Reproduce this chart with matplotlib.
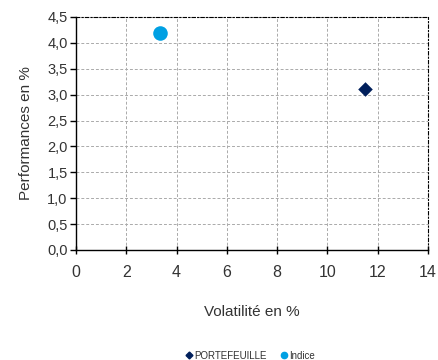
import matplotlib
matplotlib.use("Agg")
import matplotlib.pyplot as plt
from matplotlib.lines import Line2D

plt.rcParams["font.family"] = ["Liberation Sans", "DejaVu Sans"]

# risk / return of the fund and its benchmark
names = ["PORTEFEUILLE", "Indice"]
volatility = [11.5, 3.35]
performance = [3.1, 4.2]
colors = ["#001f5b", "#00a0e3"]
markers = ["D", "o"]
sizes = [55, 110]

fig = plt.figure(figsize=(4.38, 3.6), dpi=100)
ax = fig.add_axes([0.1735, 0.3056, 0.8035, 0.6472])

for name, x, y, c, m, s in zip(names, volatility, performance, colors, markers, sizes):
    ax.scatter([x], [y], color=c, marker=m, s=s, zorder=3, label=name, linewidths=0)

ax.set_xlim(0, 14)
ax.set_ylim(0, 4.5)
ax.set_xticks(range(0, 15, 2))
ax.set_yticks([i * 0.5 for i in range(10)])
ax.set_yticklabels([f"{i * 0.5:.1f}".replace(".", ",") for i in range(10)])

ax.grid(True, color="#aaaaaa", linestyle=(0, (3, 2)), linewidth=0.7)
ax.set_axisbelow(True)

for side in ["top", "right"]:
    ax.spines[side].set_linestyle((0, (3, 2, 1, 2)))
    ax.spines[side].set_linewidth(0.8)
for side in ["left", "bottom"]:
    ax.spines[side].set_linewidth(1.0)

ax.tick_params(axis="x", direction="inout", length=6, width=1, labelsize=11.5,
               labelcolor="#333333", pad=8)
ax.tick_params(axis="y", direction="out", length=4, width=1, labelsize=10.5,
               labelcolor="#333333", pad=2)

ax.set_xlabel("Volatilité en %", fontsize=11, color="#333333", labelpad=18)
ax.set_ylabel("Performances en %", fontsize=11, color="#333333", labelpad=10)

handles = [
    Line2D([], [], marker="D", color=colors[0], linestyle="none", markersize=3.5),
    Line2D([], [], marker="o", color=colors[1], linestyle="none", markersize=4.5),
]
fig.legend(handles, names, loc="center", bbox_to_anchor=(0.57, 0.012), ncol=2,
           frameon=False, fontsize=7, handletextpad=0.1, columnspacing=1.2,
           handlelength=1.0, labelcolor="#333333")

fig.savefig("out.png", dpi=100)
